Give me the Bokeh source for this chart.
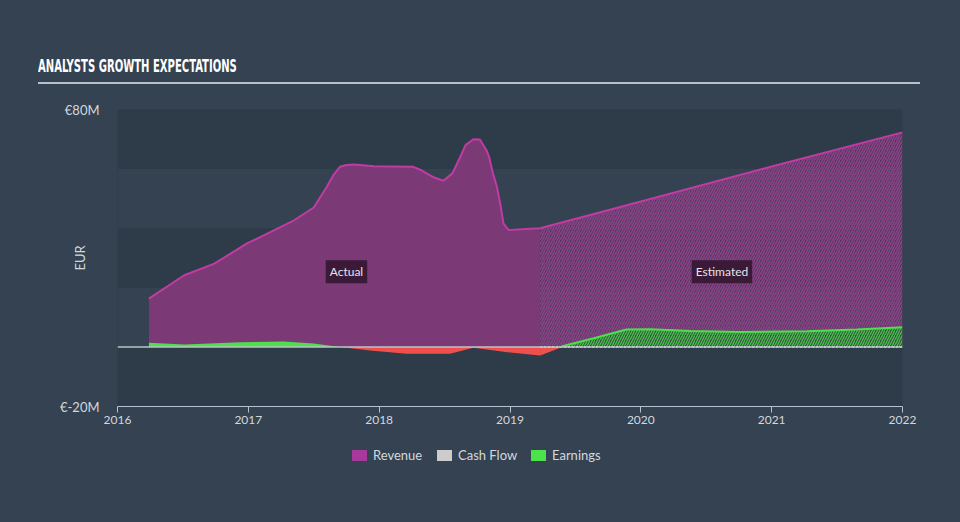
import numpy as np
from bokeh.plotting import figure
from bokeh.layouts import column
from bokeh.models import Label, FixedTicker, Span, Div
from bokeh.embed import file_html
from bokeh.resources import INLINE

# ---------------- data ----------------
title_text = "ANALYSTS GROWTH EXPECTATIONS"
y_axis_title = "EUR"
x_ticks = [2016, 2017, 2018, 2019, 2020, 2021, 2022]
x_labels = ["2016", "2017", "2018", "2019", "2020", "2021", "2022"]
y_ticks = [-20, 80]
y_labels = ["€-20M", "€80M"]
band_ticks = [-20, 0, 20, 40, 60, 80]
legend_names = ["Revenue", "Cash Flow", "Earnings"]

rev_act_t = [2016.24, 2016.51, 2016.74, 2016.99, 2017.35, 2017.50, 2017.60, 2017.65,
             2017.70, 2017.75, 2017.81, 2017.96, 2018.26, 2018.31, 2018.42, 2018.49,
             2018.56, 2018.62, 2018.66, 2018.72, 2018.77, 2018.82, 2018.84, 2018.87,
             2018.90, 2018.93, 2018.95, 2018.99, 2019.23]
rev_act_v = [16.3, 24.2, 28.1, 34.9, 42.7, 47.0, 54.0, 57.9,
             60.7, 61.3, 61.5, 60.9, 60.7, 59.8, 57.1, 56.0,
             58.5, 64.1, 68.0, 70.0, 69.9, 66.3, 64.1, 58.5,
             54.0, 47.2, 41.6, 39.4, 40.0]
rev_est_t = [2019.23, 2020.0, 2021.0, 2022.0]
rev_est_v = [40.0, 49.0, 60.8, 72.3]

earn_act_t = [2016.24, 2016.51, 2016.94, 2017.27, 2017.50, 2017.70, 2017.95,
              2018.21, 2018.54, 2018.72, 2018.98, 2019.23]
earn_act_v = [1.5, 0.9, 1.6, 1.9, 1.2, 0.0, -1.2, -2.2, -2.2, -0.2, -1.7, -2.8]
earn_est_t = [2019.23, 2019.40, 2019.64, 2019.89, 2020.07, 2020.38, 2020.76,
              2021.27, 2021.65, 2022.0]
earn_est_v = [-2.8, 0.3, 3.0, 5.9, 6.0, 5.4, 5.1, 5.3, 5.9, 6.7]

cash_est_t = [2019.23, 2022.0]
cash_est_v = [0.0, 0.0]

# ---------------- style ----------------
BG = "#344251"
BAND_DARK = "#2e3b49"
PURPLE = "#7b3a75"
MAGENTA = "#c03ca2"
GREEN = "#4ddf4d"
RED = "#f0504c"
GREY = "#cccccc"
FONT = "Lato"
TXT = "#d2d8de"
legend_colors = ["#a8389c", GREY, "#4ce24c"]
legend_lefts = [352, 437, 531]

header = Div(
    text=('<div style="position:absolute;left:38px;top:56px;width:882px;'
          'border-bottom:2px solid #b9bfc6;padding-bottom:4px;line-height:20px;">'
          '<span style="display:inline-block;transform:scaleX(0.62);transform-origin:0 50%;'
          'font-family:\'Liberation Sans Narrow\',\'DejaVu Sans Condensed\',sans-serif;'
          'font-weight:bold;font-size:18px;color:#ffffff;white-space:nowrap;">'
          + title_text + '</span></div>'),
    width=960, height=100, margin=0,
    styles={"background-color": BG, "position": "relative"})

p = figure(frame_width=785, frame_height=297, x_range=(2016, 2022), y_range=(-20, 80),
           output_backend="svg", toolbar_location=None,
           min_border_left=117, min_border_right=58, min_border_top=9, min_border_bottom=34,
           margin=0)
p.background_fill_color = BAND_DARK
p.border_fill_color = BG
p.outline_line_color = None

p.xgrid.visible = False
p.ygrid.ticker = FixedTicker(ticks=band_ticks)
p.ygrid.grid_line_color = None
p.ygrid.band_fill_color = BG
p.ygrid.band_fill_alpha = 1.0

xa = p.xaxis[0]
xa.ticker = FixedTicker(ticks=x_ticks)
xa.major_label_overrides = {t: l for t, l in zip(x_ticks, x_labels)}
xa.axis_line_color = "#b4c2cf"
xa.major_tick_line_color = "#b4c2cf"
xa.major_tick_out = 6
xa.major_tick_in = 0
xa.minor_tick_line_color = None
xa.major_label_text_font = FONT
xa.major_label_text_font_size = "12px"
xa.major_label_text_color = TXT
xa.major_label_standoff = 3

ya = p.yaxis[0]
ya.ticker = FixedTicker(ticks=y_ticks)
ya.major_label_overrides = {t: l for t, l in zip(y_ticks, y_labels)}
ya.axis_line_color = None
ya.major_tick_line_color = None
ya.minor_tick_line_color = None
ya.major_label_text_font = FONT
ya.major_label_text_font_size = "13px"
ya.major_label_text_color = TXT
ya.major_label_standoff = 12
ya.axis_label = y_axis_title
ya.axis_label_text_font = FONT
ya.axis_label_text_font_style = "normal"
ya.axis_label_text_font_size = "13px"
ya.axis_label_text_color = TXT
ya.axis_label_standoff = -31

# revenue
p.varea(x=rev_act_t, y1=np.zeros(len(rev_act_t)), y2=rev_act_v, fill_color=PURPLE, fill_alpha=1.0)
p.varea(x=rev_est_t, y1=np.zeros(len(rev_est_t)), y2=rev_est_v, fill_color=PURPLE, fill_alpha=0.3,
        hatch_pattern="/", hatch_color="#8e3f88", hatch_alpha=1.0, hatch_scale=5, hatch_weight=1.6)

# earnings
ea_v = np.array(earn_act_v)
ee_v = np.array(earn_est_v)
p.varea(x=earn_act_t, y1=np.zeros(len(ea_v)), y2=np.maximum(ea_v, 0), fill_color=GREEN)
p.varea(x=earn_act_t, y1=np.zeros(len(ea_v)), y2=np.minimum(ea_v, 0), fill_color=RED)
p.varea(x=earn_est_t, y1=np.zeros(len(ee_v)), y2=np.maximum(ee_v, 0), fill_color="#34503e",
        fill_alpha=1.0, hatch_pattern="/", hatch_color=GREEN, hatch_alpha=0.75,
        hatch_scale=5, hatch_weight=1.4)
p.varea(x=earn_est_t, y1=np.zeros(len(ee_v)), y2=np.minimum(ee_v, 0), fill_color=RED)

# zero line / cash flow
p.add_layout(Span(location=0, dimension="width", line_color="#bfc3c8", line_width=1.5))
p.line(cash_est_t, cash_est_v, line_color="#e6e6e6", line_width=1.5, line_dash="2 2")

# lines
p.line(rev_act_t + rev_est_t[1:], rev_act_v + rev_est_v[1:], line_color=MAGENTA, line_width=2)
e_pos_t = [t for t, v in zip(earn_est_t, earn_est_v) if v >= 0]
e_pos_v = [v for v in earn_est_v if v >= 0]
t_cross = earn_est_t[0] + (earn_est_t[1] - earn_est_t[0]) * (-earn_est_v[0]) / (earn_est_v[1] - earn_est_v[0])
p.line([t_cross] + e_pos_t, [0.0] + e_pos_v, line_color=GREEN, line_width=2)

# labels
for txt, xx, yy in [("Actual", 2017.75, 25.4), ("Estimated", 2020.62, 25.4)]:
    p.add_layout(Label(x=xx, y=yy, text=txt, text_align="center", text_baseline="middle",
                       text_font=FONT, text_font_size="12px", text_color="#e8e2e8",
                       background_fill_color="#3a1a37", background_fill_alpha=1.0, padding=4))

# legend (HTML below the figure)
items_html = ""
for name, col, left in zip(legend_names, legend_colors, legend_lefts):
    items_html += ('<div style="position:absolute;left:%dpx;top:10px;width:15px;height:11px;'
                   'background:%s;"></div>' % (left, col))
    items_html += ('<span style="position:absolute;left:%dpx;top:6px;font-family:Lato,sans-serif;'
                   'font-size:13px;line-height:18px;color:%s;white-space:nowrap;">%s</span>'
                   % (left + 21, TXT, name))
legend_div = Div(text='<div style="position:relative;width:960px;height:82px;">' + items_html + '</div>',
                 width=960, height=82, margin=0,
                 styles={"background-color": BG, "position": "relative"})

layout = column(header, p, legend_div, spacing=0, margin=0, styles={"background-color": BG})
open("out.html", "w").write(file_html(layout, INLINE))
